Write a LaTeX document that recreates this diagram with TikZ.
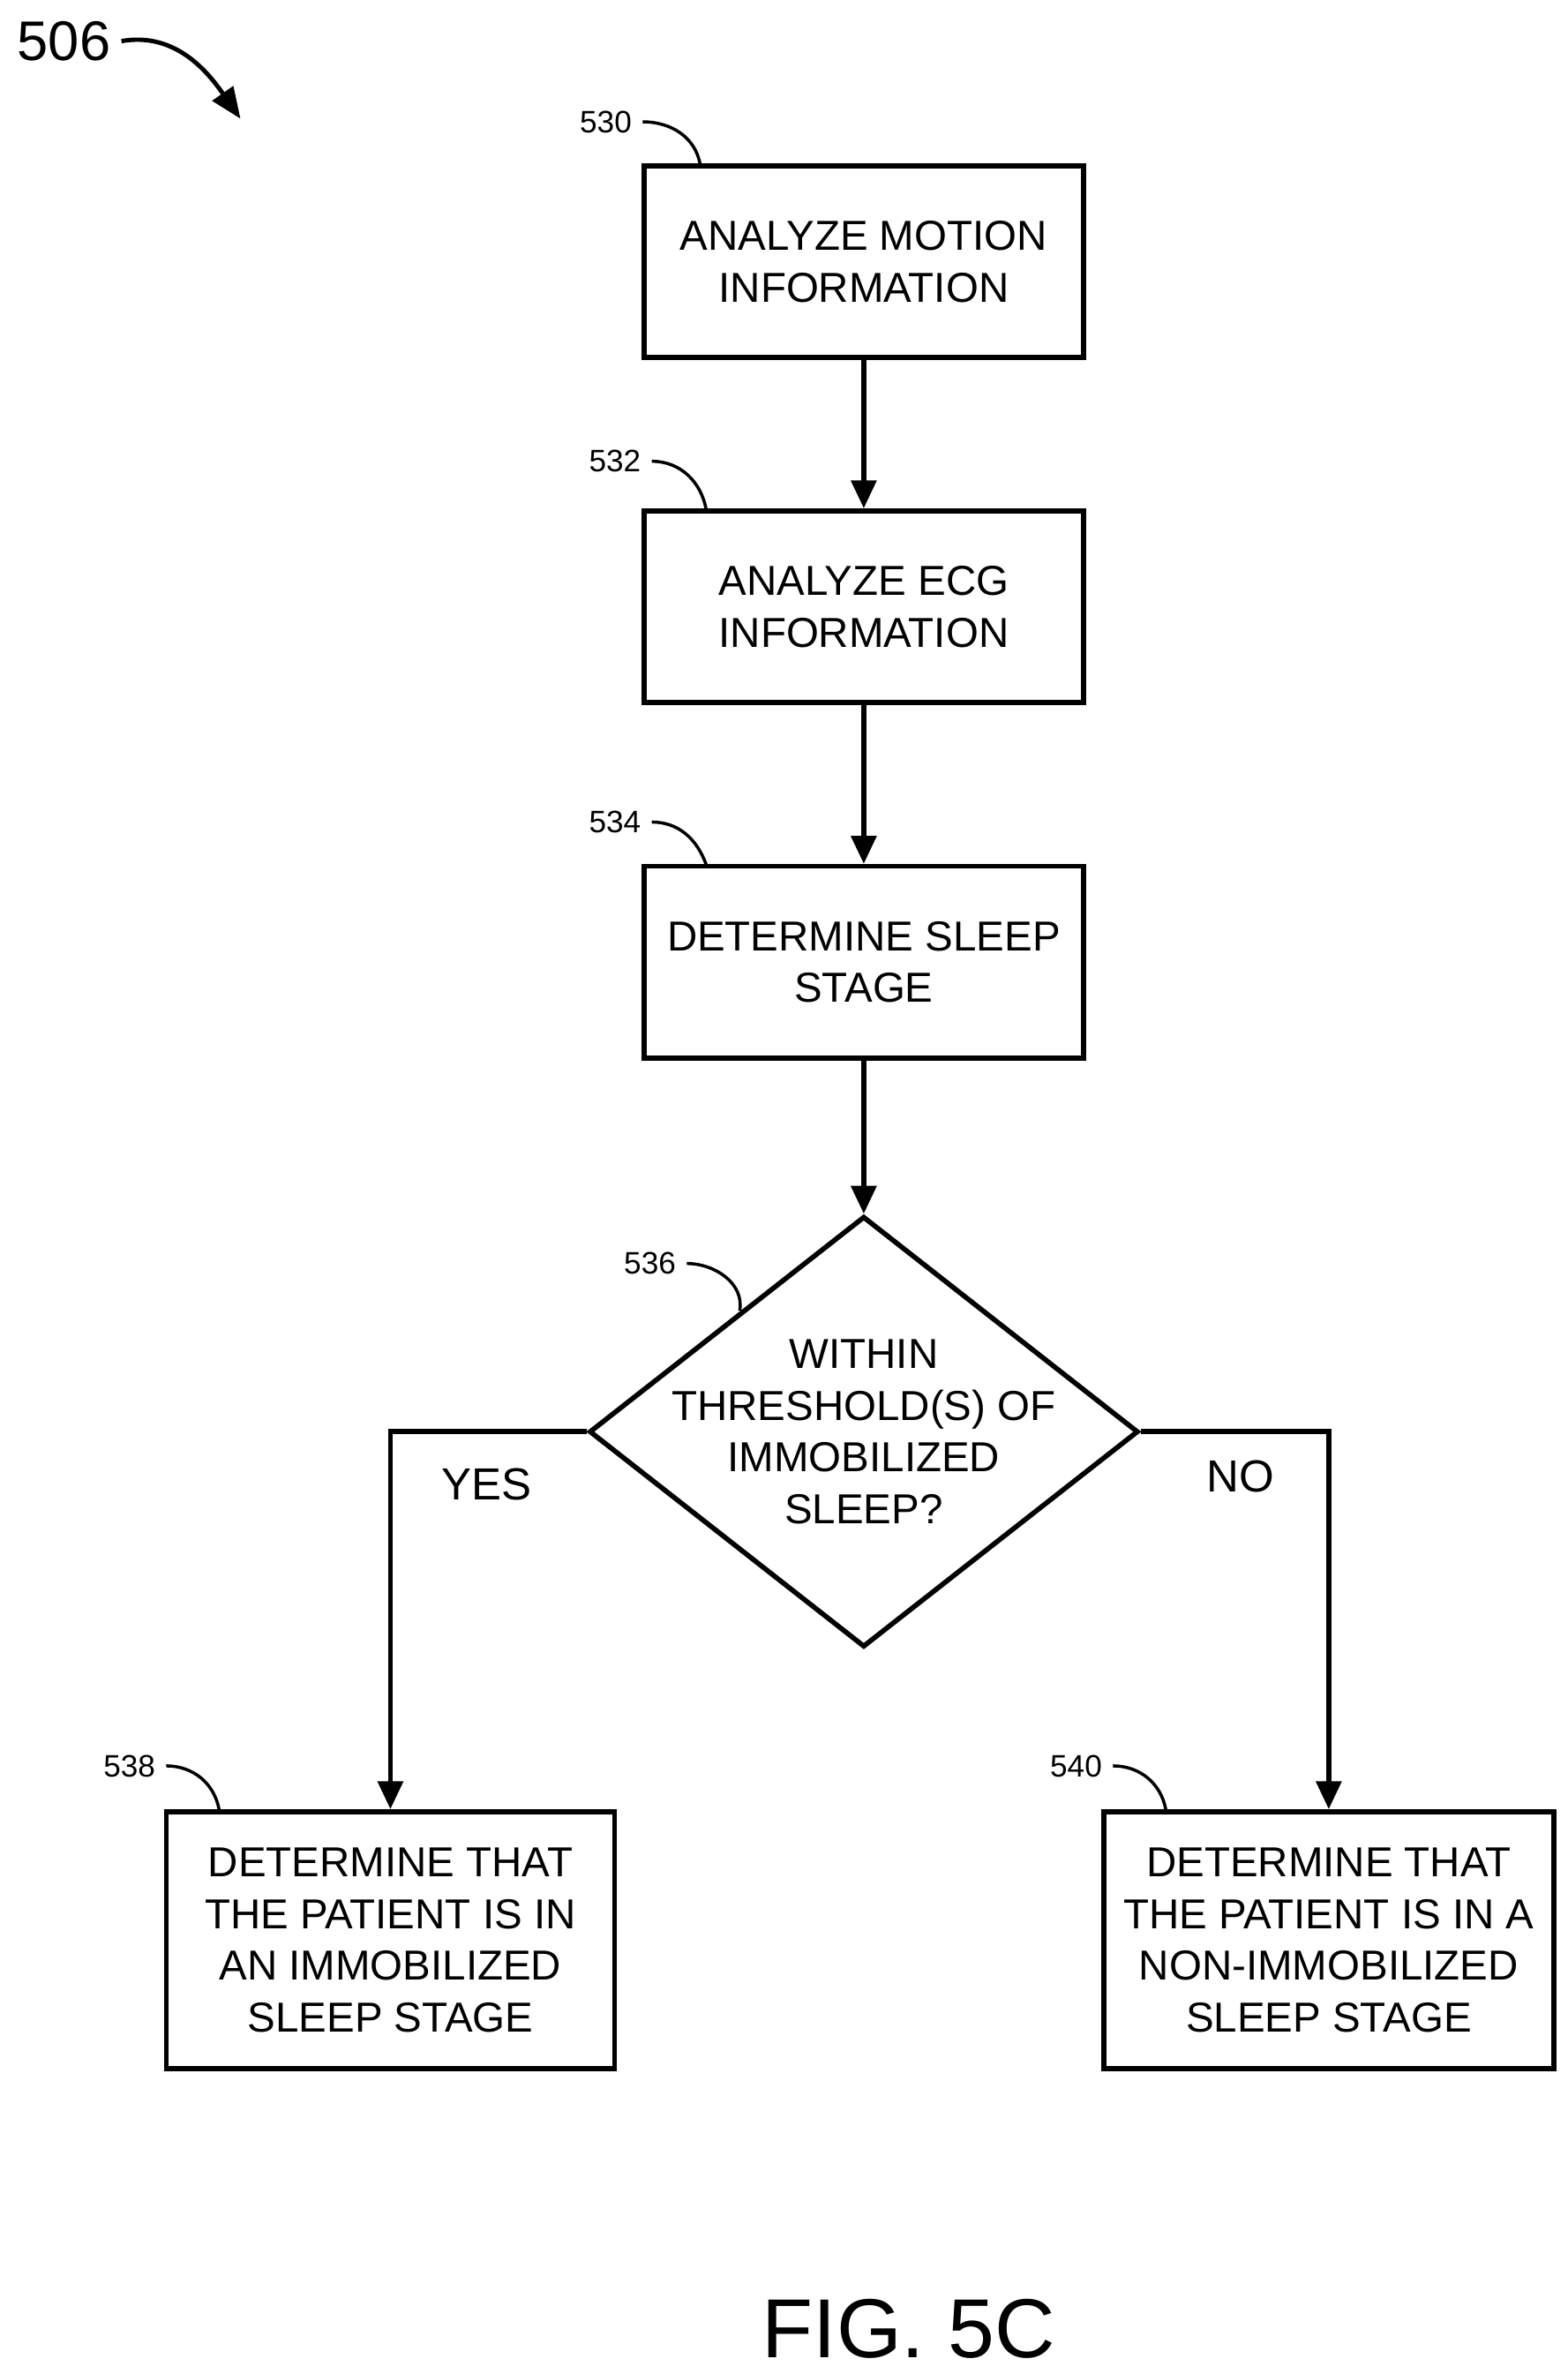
\documentclass[tikz,border=0pt]{standalone}
\usepackage{fontspec}
\setmainfont{Liberation Sans}
\usetikzlibrary{arrows.meta, shapes.geometric, positioning}

\tikzset{
  procbox/.style={draw, line width=1.6pt, minimum width=4.98cm, minimum height=2.17cm, align=center, font=\fontsize{13.5}{16.7}\selectfont, inner sep=2pt},
  flow/.style={line width=1.6pt, -{Triangle[length=9pt, width=8pt]}},
  refnum/.style={font=\fontsize{10}{12}\selectfont},
  lead/.style={line width=1pt}
}

\begin{document}
\begin{tikzpicture}[x=0.01725cm, y=-0.01725cm]
\useasboundingbox (0,0) rectangle (1030,1559.5);

\node[procbox] (motion) at (567.5,172) {ANALYZE MOTION\\INFORMATION};
\node[procbox] (ecg) at (567.5,398.5) {ANALYZE ECG\\INFORMATION};
\node[procbox] (stage) at (567.5,632) {DETERMINE SLEEP\\STAGE};
\node[draw, line width=1.6pt, diamond, minimum width=6.22cm, minimum height=4.88cm, inner sep=0pt] (check) at (567.5,940.5) {};
\node[align=center, font=\fontsize{13.5}{16.7}\selectfont] (checktext) at (check) {WITHIN\\THRESHOLD(S) OF\\IMMOBILIZED\\SLEEP?};
\node[procbox, minimum width=5.08cm, minimum height=2.91cm] (immob) at (256.5,1274.5) {DETERMINE THAT\\THE PATIENT IS IN\\AN IMMOBILIZED\\SLEEP STAGE};
\node[procbox, minimum width=5.1cm, minimum height=2.91cm] (nonimmob) at (873,1274.5) {DETERMINE THAT\\THE PATIENT IS IN A\\NON-IMMOBILIZED\\SLEEP STAGE};

\draw[flow] (motion) -- (ecg);
\draw[flow] (ecg) -- (stage);
\draw[flow] (stage) -- (check);
\draw[flow] (check.west) -| (immob.north);
\draw[flow] (check.east) -| (nonimmob.north);

\node[font=\fontsize{14.5}{17}\selectfont] (yes) at (320,975) {YES};
\node[font=\fontsize{14.5}{17}\selectfont] (no) at (815,970) {NO};

% reference numbers
\node[refnum] (n530) at (398,80) {530};
\draw[lead] (n530.east) to[out=0, in=100] (460,108);
\node[refnum] (n532) at (404,303) {532};
\draw[lead] (n532.east) to[out=0, in=100] (464,335);
\node[refnum] (n534) at (404,540) {534};
\draw[lead] (n534.east) to[out=0, in=110] (464,568);
\node[refnum] (n536) at (427,830) {536};
\draw[lead] (n536.east) to[out=0, in=80] (486,861);
\node[refnum] (n538) at (85,1160) {538};
\draw[lead] (n538.east) to[out=0, in=100] (144,1189);
\node[refnum] (n540) at (707,1160) {540};
\draw[lead] (n540.east) to[out=0, in=100] (766,1189);

\node[font=\fontsize{18}{20}\selectfont] (fig) at (42,27) {506};
\draw[line width=1.4pt, -{Triangle[length=10pt, width=8pt]}] (fig.east) to[out=10, in=125] (158,78);

\node[font=\fontsize{27}{30}\selectfont] (caption) at (597,1530) {FIG. 5C};
\end{tikzpicture}
\end{document}
